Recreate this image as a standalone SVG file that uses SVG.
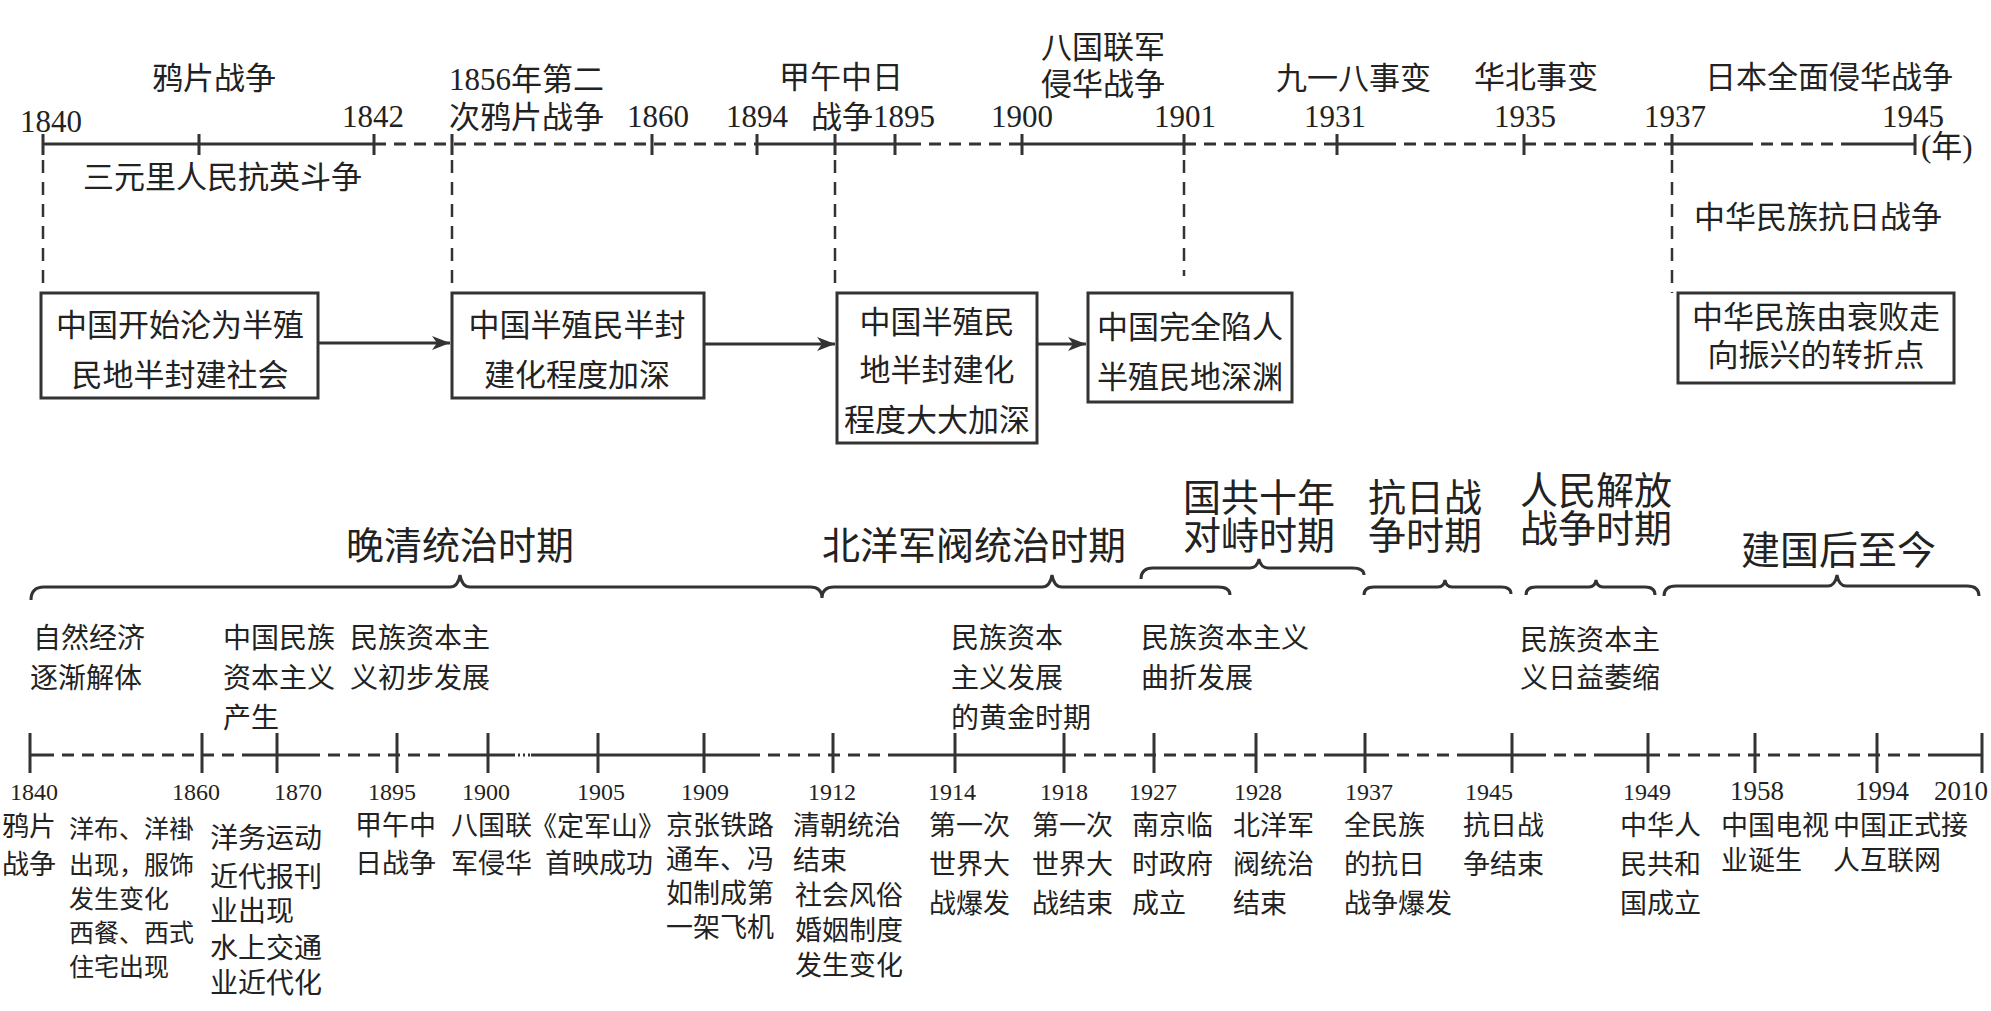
<svg xmlns="http://www.w3.org/2000/svg" width="1991" height="1011" viewBox="0 0 1991 1011">
<style>
.t{font-family:"Liberation Serif","Noto Sans CJK SC",serif;fill:#222}
.f31{font-size:31px}.f38{font-size:38px}.f28{font-size:28px}.f27{font-size:27px}.f25{font-size:25px}.f24{font-size:24px}
.m{text-anchor:middle}
.ln{stroke:#333;stroke-width:3;fill:none}
.sd{stroke:#333;stroke-width:3;fill:none;stroke-dasharray:12 8}
.vd{stroke:#333;stroke-width:2.5;fill:none;stroke-dasharray:13 9}
.dt{stroke:#333;stroke-width:3;fill:none;stroke-dasharray:2 3}
.box{fill:#fff;stroke:#333;stroke-width:3}
.br{stroke:#333;stroke-width:3;fill:none}
</style>
<defs>
<marker id="ah" markerUnits="userSpaceOnUse" markerWidth="20" markerHeight="14" refX="18" refY="7" orient="auto">
<path d="M0,0 L18,7 L0,14 L5,7 z" fill="#333"/>
</marker>
</defs>
<rect width="1991" height="1011" fill="#fff"/>

<g id="top-axis">
<path class="ln" d="M43,144H374M757,144H909M1022,144H1184M1337,144H1384M1672,144H1741M1846,144H1915"/>
<path class="sd" d="M374,144H757M909,144H1022M1184,144H1337M1384,144H1672M1741,144H1846"/>
<path class="ln" d="M43,134V155M199,134V155M374,134V155M452,134V155M652,134V155M757,134V155M835,134V155M895,134V155M1022,134V155M1184,134V155M1337,134V155M1524,134V155M1672,134V155M1915,134V155"/>
</g>

<g id="top-labels" class="t f31">
<text x="20" y="132">1840</text>
<text x="152" y="89">鸦片战争</text>
<text x="342" y="127">1842</text>
<text x="449" y="90">1856年第二</text>
<text x="449" y="128">次鸦片战争</text>
<text x="627" y="127">1860</text>
<text x="726" y="127">1894</text>
<text x="779" y="88">甲午中日</text>
<text x="811" y="128">战争</text>
<text x="873" y="127">1895</text>
<text x="991" y="127">1900</text>
<text x="1041" y="58">八国联军</text>
<text x="1041" y="95">侵华战争</text>
<text x="1154" y="127">1901</text>
<text x="1276" y="89">九一八事变</text>
<text x="1304" y="127">1931</text>
<text x="1474" y="88">华北事变</text>
<text x="1494" y="127">1935</text>
<text x="1644" y="127">1937</text>
<text x="1705" y="88">日本全面侵华战争</text>
<text x="1882" y="127">1945</text>
<text x="1921" y="157">(年)</text>
<text x="83" y="188">三元里人民抗英斗争</text>
<text x="1694" y="228">中华民族抗日战争</text>
</g>

<g id="connectors">
<path class="vd" d="M43,160V292M452,160V292M835,160V290M1184,160V276M1672,160V293"/>
<path class="ln" d="M318,343H450" marker-end="url(#ah)"/>
<path class="ln" d="M704,344H835" marker-end="url(#ah)"/>
<path class="ln" d="M1037,344H1086" marker-end="url(#ah)"/>
</g>

<g id="box1">
<rect class="box" x="41" y="293" width="277" height="105"/>
<text class="t f31 m" x="180" y="336">中国开始沦为半殖</text>
<text class="t f31 m" x="180" y="386">民地半封建社会</text>
</g>
<g id="box2">
<rect class="box" x="452" y="293" width="252" height="105"/>
<text class="t f31 m" x="577" y="336">中国半殖民半封</text>
<text class="t f31 m" x="577" y="386">建化程度加深</text>
</g>
<g id="box3">
<rect class="box" x="837" y="293" width="200" height="150"/>
<text class="t f31 m" x="937" y="333">中国半殖民</text>
<text class="t f31 m" x="937" y="381">地半封建化</text>
<text class="t f31 m" x="937" y="431">程度大大加深</text>
</g>
<g id="box4">
<rect class="box" x="1088" y="293" width="204" height="109"/>
<text class="t f31 m" x="1190" y="338">中国完全陷人</text>
<text class="t f31 m" x="1190" y="388">半殖民地深渊</text>
</g>
<g id="box5">
<rect class="box" x="1678" y="293" width="276" height="90"/>
<text class="t f31 m" x="1816" y="328">中华民族由衰败走</text>
<text class="t f31 m" x="1816" y="366">向振兴的转折点</text>
</g>

<g id="periods">
<path class="br" d="M31,600Q31,587 44,587H450Q458,587 460,575Q462,587 470,587H810Q822,587 822,598Q822,587 834,587H1042Q1050,587 1052,575Q1054,587 1062,587H1218Q1230,587 1230,595"/>
<path class="br" d="M1141,579Q1141,568 1153,568H1250Q1257,568 1259,559Q1261,568 1268,568H1352Q1364,568 1364,575"/>
<path class="br" d="M1364,595Q1364,587 1374,587H1438Q1444,587 1445,580Q1446,587 1452,587H1501Q1511,587 1511,594"/>
<path class="br" d="M1526,595Q1526,587 1536,587H1589Q1595,587 1596,580Q1597,587 1603,587H1645Q1655,587 1655,595"/>
<path class="br" d="M1664,596Q1664,586 1676,586H1828Q1835,586 1837,575Q1839,586 1846,586H1967Q1979,586 1979,596"/>
<text class="t f38" x="346" y="559">晚清统治时期</text>
<text class="t f38" x="822" y="559">北洋军阀统治时期</text>
<text class="t f38" x="1183" y="511">国共十年</text>
<text class="t f38" x="1183" y="549">对峙时期</text>
<text class="t f38" x="1368" y="511">抗日战</text>
<text class="t f38" x="1368" y="549">争时期</text>
<text class="t f38" x="1520" y="504">人民解放</text>
<text class="t f38" x="1520" y="542">战争时期</text>
<text class="t" style="font-size:39px" x="1741" y="564">建国后至今</text>
</g>

<g id="economy" class="t f28">
<text x="33" y="648">自然经济</text>
<text x="30" y="688">逐渐解体</text>
<text x="223" y="648">中国民族</text>
<text x="223" y="688">资本主义</text>
<text x="223" y="728">产生</text>
<text x="350" y="648">民族资本主</text>
<text x="350" y="688">义初步发展</text>
<text x="951" y="648">民族资本</text>
<text x="951" y="688">主义发展</text>
<text x="951" y="728">的黄金时期</text>
<text x="1141" y="648">民族资本主义</text>
<text x="1141" y="688">曲折发展</text>
<text x="1520" y="650">民族资本主</text>
<text x="1520" y="688">义日益萎缩</text>
</g>

<g id="bottom-axis">
<path class="ln" d="M30,755H42M250,755H308M455,755H513M531,755H748M895,755H1064M1333,755H1377M1459,755H1534M1600,755H1648M1935,755H1982"/>
<path class="sd" d="M42,755H250M308,755H455M748,755H895M1064,755H1333M1377,755H1459M1534,755H1600M1648,755H1935"/>
<path class="dt" d="M513,755H531"/>
<path class="ln" d="M30,733V773M202,733V773M277,733V773M397,733V773M488,733V773M598,733V773M704,733V773M833,733V773M955,733V773M1064,733V773M1154,733V773M1256,733V773M1365,733V773M1512,733V773M1648,733V773M1755,733V773M1877,733V773M1982,733V773"/>
</g>

<g id="bottom-years" class="t f24 m">
<text x="34" y="800">1840</text>
<text x="196" y="800">1860</text>
<text x="298" y="800">1870</text>
<text x="392" y="800">1895</text>
<text x="486" y="800">1900</text>
<text x="601" y="800">1905</text>
<text x="705" y="800">1909</text>
<text x="832" y="800">1912</text>
<text x="952" y="800">1914</text>
<text x="1064" y="800">1918</text>
<text x="1153" y="800">1927</text>
<text x="1258" y="800">1928</text>
<text x="1369" y="800">1937</text>
<text x="1489" y="800">1945</text>
<text x="1647" y="800">1949</text>
<text x="1757" y="800" style="font-size:27px">1958</text>
<text x="1882" y="800" style="font-size:27px">1994</text>
<text x="1961" y="800" style="font-size:27px">2010</text>
</g>

<g id="bottom-events" class="t f27">
<text x="2" y="836">鸦片</text>
<text x="2" y="874">战争</text>
<text class="f25" x="69" y="838">洋布、洋褂</text>
<text class="f25" x="69" y="874">出现，服饰</text>
<text class="f25" x="69" y="908">发生变化</text>
<text class="f25" x="69" y="942">西餐、西式</text>
<text class="f25" x="69" y="976">住宅出现</text>
<text class="f28" x="210" y="848">洋务运动</text>
<text class="f28" x="210" y="887">近代报刊</text>
<text class="f28" x="210" y="921">业出现</text>
<text class="f28" x="210" y="958">水上交通</text>
<text class="f28" x="210" y="993">业近代化</text>
<text x="355" y="835">甲午中</text>
<text x="355" y="873">日战争</text>
<text x="451" y="835">八国联</text>
<text x="451" y="873">军侵华</text>
<text x="530" y="836">《定军山》</text>
<text x="545" y="873">首映成功</text>
<text x="666" y="835">京张铁路</text>
<text x="666" y="869">通车、冯</text>
<text x="666" y="903">如制成第</text>
<text x="666" y="937">一架飞机</text>
<text x="793" y="835">清朝统治</text>
<text x="793" y="870">结束</text>
<text x="795" y="905">社会风俗</text>
<text x="795" y="940">婚姻制度</text>
<text x="795" y="975">发生变化</text>
<text x="929" y="835">第一次</text>
<text x="929" y="874">世界大</text>
<text x="929" y="913">战爆发</text>
<text x="1032" y="835">第一次</text>
<text x="1032" y="874">世界大</text>
<text x="1032" y="913">战结束</text>
<text x="1132" y="835">南京临</text>
<text x="1132" y="874">时政府</text>
<text x="1132" y="913">成立</text>
<text x="1233" y="835">北洋军</text>
<text x="1233" y="874">阀统治</text>
<text x="1233" y="913">结束</text>
<text x="1344" y="835">全民族</text>
<text x="1344" y="874">的抗日</text>
<text x="1344" y="913">战争爆发</text>
<text x="1463" y="835">抗日战</text>
<text x="1463" y="874">争结束</text>
<text x="1620" y="835">中华人</text>
<text x="1620" y="874">民共和</text>
<text x="1620" y="913">国成立</text>
<text x="1721" y="835">中国电视</text>
<text x="1721" y="870">业诞生</text>
<text x="1833" y="835">中国正式接</text>
<text x="1833" y="870">人互联网</text>
</g>
</svg>
